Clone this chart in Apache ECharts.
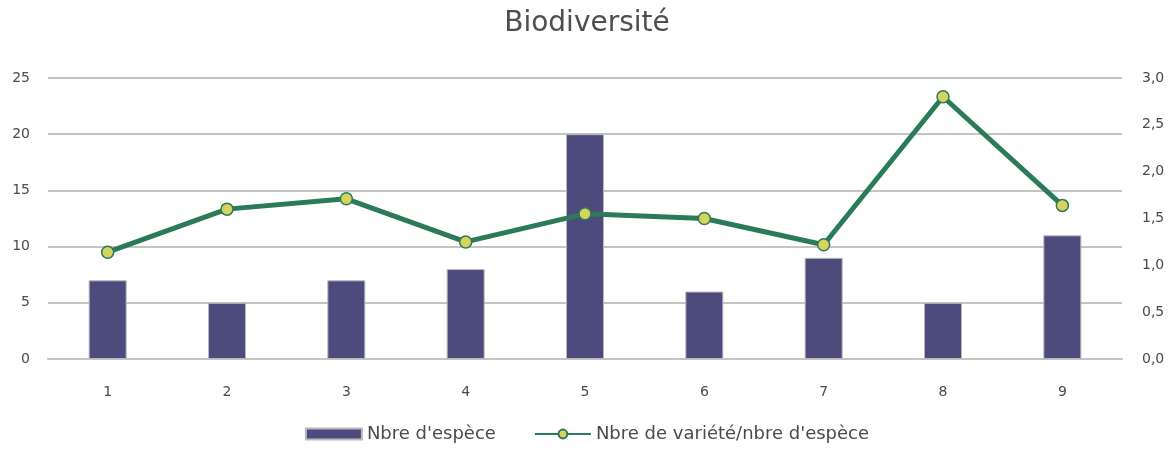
<!DOCTYPE html>
<html>
<head>
<meta charset="utf-8">
<script src="https://cdn.jsdelivr.net/npm/echarts@6/dist/echarts.min.js"></script>
<style>html,body{margin:0;padding:0;background:#fff}#c{width:1174px;height:454px}</style>
</head>
<body>
<div id="c"></div>
<script>
const categories = ['1','2','3','4','5','6','7','8','9'];
const especes = [7, 5, 7, 8, 20, 6, 9, 5, 11];
const ratio = [1.14, 1.6, 1.71, 1.25, 1.55, 1.5, 1.22, 2.8, 1.64];
const leftTicks = [0, 25, 5];
const rightTicks = [0, 3, 0.5];

const font = 'DejaVu Sans';
const chart = echarts.init(document.getElementById('c'));
chart.setOption({
  animation: false,
  title: {
    text: 'Biodiversité', left: 'center', top: 5,
    textStyle: { fontFamily: font, fontSize: 28, fontWeight: 'normal', color: '#4e4e4c' }
  },
  legend: {
    bottom: 6, left: 'center', itemGap: 38, itemWidth: 56, itemHeight: 11,
    textStyle: { fontFamily: font, fontSize: 18, color: '#4a4a48' },
    data: [
      { name: "Nbre d'espèce", icon: 'rect' },
      { name: "Nbre de variété/nbre d'espèce" }
    ]
  },
  grid: { left: 48, right: 52, top: 78, bottom: 95 },
  xAxis: {
    type: 'category', data: categories,
    axisLine: { show: true, lineStyle: { color: '#c4c4c0', width: 2 } },
    axisTick: { show: false },
    axisLabel: { margin: 26, fontFamily: font, fontSize: 14, color: '#4a4a48' }
  },
  yAxis: [
    {
      type: 'value', min: leftTicks[0], max: leftTicks[1], interval: leftTicks[2],
      axisLine: { show: false }, axisTick: { show: false },
      splitLine: { lineStyle: { color: '#c4c4c0', width: 2 } },
      axisLabel: { margin: 18, fontFamily: font, fontSize: 14, color: '#4a4a48' }
    },
    {
      type: 'value', min: rightTicks[0], max: rightTicks[1], interval: rightTicks[2],
      axisLine: { show: false }, axisTick: { show: false }, splitLine: { show: false },
      axisLabel: {
        margin: 20, fontFamily: font, fontSize: 14, color: '#4a4a48',
        formatter: v => v.toFixed(1).replace('.', ',')
      }
    }
  ],
  series: [
    {
      name: "Nbre d'espèce", type: 'bar', data: especes, barWidth: 38,
      itemStyle: { color: '#4d4b7c', borderColor: '#b8b8c0', borderWidth: 1 }
    },
    {
      name: "Nbre de variété/nbre d'espèce", type: 'line', yAxisIndex: 1, data: ratio,
      symbol: 'circle', symbolSize: 12,
      lineStyle: { color: '#2b7a5a', width: 5 },
      itemStyle: { color: '#d6d35e', borderColor: '#2b7a5a', borderWidth: 1.5 }
    }
  ]
});
</script>
</body>
</html>
